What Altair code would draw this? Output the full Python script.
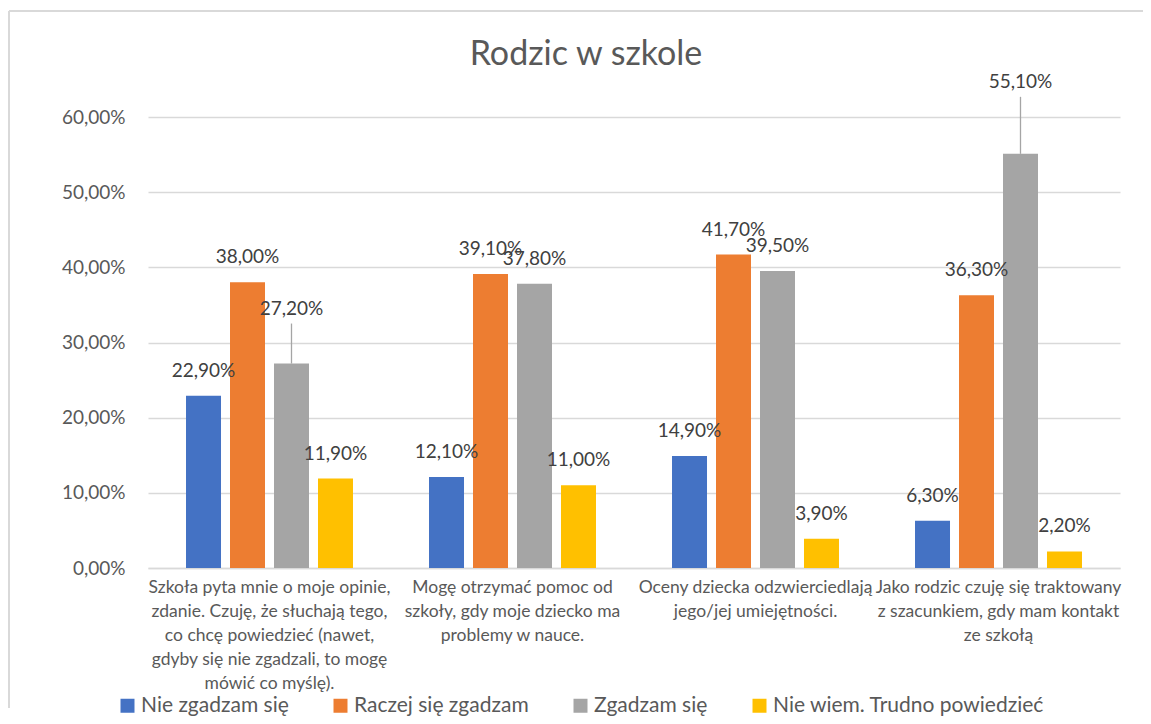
import altair as alt
import pandas as pd

categories = [
    "Szkoła pyta mnie o moje opinie,|zdanie. Czuję, że słuchają tego,|co chcę powiedzieć (nawet,|gdyby się nie zgadzali, to mogę|mówić co myślę).",
    "Mogę otrzymać pomoc od|szkoły, gdy moje dziecko ma|problemy w nauce.",
    "Oceny dziecka odzwierciedlają|jego/jej umiejętności.",
    "Jako rodzic czuję się traktowany|z szacunkiem, gdy mam kontakt|ze szkołą",
]
series = ["Nie zgadzam się", "Raczej się zgadzam", "Zgadzam się", "Nie wiem. Trudno powiedzieć"]
colors = ["#4472C4", "#ED7D31", "#A5A5A5", "#FFC000"]

nie_zgadzam = [22.9, 12.1, 14.9, 6.3]
raczej_zgadzam = [38.0, 39.1, 41.7, 36.3]
zgadzam = [27.2, 37.8, 39.5, 55.1]
nie_wiem = [11.9, 11.0, 3.9, 2.2]
y_ticks = [0, 10, 20, 30, 40, 50, 60]
title_text = ["Rodzic w szkole"]

values_by_series = [nie_zgadzam, raczej_zgadzam, zgadzam, nie_wiem]
rows = []
for si, s in enumerate(series):
    for ci, c in enumerate(categories):
        rows.append({"cat": c, "series": s, "value": values_by_series[si][ci], "key": f"{ci}-{si}"})
df = pd.DataFrame(rows)

FONT = "Lato"
AXIS_COL = "#595959"
LABEL_COL = "#404040"

# labels moved up with a leader line: key -> (label lift px, line top px)
leaders = {"0-2": (55, 40), "3-2": (72, 57)}

x_enc = alt.X("cat:N", sort=categories, scale=alt.Scale(paddingInner=0, paddingOuter=0),
              axis=alt.Axis(title=None, labelExpr="split(datum.label, '|')", labelAngle=0,
                            labelFontSize=17.5, labelColor=AXIS_COL, labelFont=FONT,
                            labelLineHeight=24, labelPadding=10, labelBaseline="top",
                            ticks=False, domainColor="#D9D9D9", domainWidth=1.3,
                            labelLimit=0, grid=False))
xo_enc = alt.XOffset("series:N", sort=series, scale=alt.Scale(paddingInner=0.2045, paddingOuter=0.864))
y_scale = alt.Scale(domain=[0, 60], nice=False)

base = alt.Chart(df).transform_calculate(
    label="replace(format(datum.value, '.2f'), '.', ',') + '%'"
)

bars = base.mark_bar().encode(
    x=x_enc,
    xOffset=xo_enc,
    y=alt.Y("value:Q", scale=y_scale,
            axis=alt.Axis(title=None, values=y_ticks,
                          labelExpr="replace(format(datum.value, '.2f'), '.', ',') + '%'",
                          labelFontSize=19, labelColor=AXIS_COL, labelFont=FONT, labelPadding=23,
                          ticks=False, domain=False, gridColor="#D9D9D9", gridWidth=1.3)),
    color=alt.Color("series:N", sort=series, scale=alt.Scale(domain=series, range=colors),
                    legend=alt.Legend(title=None, orient="none", direction="horizontal",
                                      legendX=-31, legendY=578, symbolType="square",
                                      symbolSize=196, symbolStrokeWidth=0, labelFontSize=21,
                                      labelColor=AXIS_COL, labelFont=FONT, columnPadding=41,
                                      labelOffset=3, labelLimit=0)),
)

normal_labels = base.transform_filter(
    ~alt.FieldOneOfPredicate(field="key", oneOf=list(leaders.keys()))
).mark_text(dy=-25, baseline="middle", fontSize=19, font=FONT, color=LABEL_COL).encode(
    x=alt.X("cat:N", sort=categories), xOffset=alt.XOffset("series:N", sort=series),
    y=alt.Y("value:Q", scale=y_scale), text="label:N")

layers = [bars, normal_labels]
for k, (lift, line_top) in leaders.items():
    layers.append(base.transform_filter(alt.datum.key == k).mark_rule(
        color="#A5A5A5", strokeWidth=1.3, y2Offset=-line_top).encode(
        x=alt.X("cat:N", sort=categories), xOffset=alt.XOffset("series:N", sort=series),
        y=alt.Y("value:Q", scale=y_scale), y2="value:Q"))
    layers.append(base.transform_filter(alt.datum.key == k).mark_text(
        dy=-lift, baseline="middle", fontSize=19, font=FONT, color=LABEL_COL).encode(
        x=alt.X("cat:N", sort=categories), xOffset=alt.XOffset("series:N", sort=series),
        y=alt.Y("value:Q", scale=y_scale), text="label:N"))

# chart title
title = alt.Chart(pd.DataFrame({"t": title_text})).mark_text(
    fontSize=34, font=FONT, color=AXIS_COL, align="center", baseline="alphabetic").encode(
    x=alt.value(438), y=alt.value(-52), text="t:N")

# chart frame (top and left edges)
frame_top = alt.Chart(df).mark_rule(color="#D9D9D9", strokeWidth=1.3).encode(
    x=alt.value(-139), x2=alt.value(1003), y=alt.value(-106))
frame_left = alt.Chart(df).mark_rule(color="#D9D9D9", strokeWidth=1.3).encode(
    x=alt.value(-139), y=alt.value(-106), y2=alt.value(591))
layers += [title, frame_top, frame_left]

chart = alt.layer(*layers).properties(
    width=972, height=451,
    padding={"left": 140, "top": 109, "right": 23, "bottom": 148},
    autosize=alt.AutoSizeParams(type="none"),
).configure_view(stroke=None)

chart.save("out.html", embed_options={"renderer": "svg", "actions": False})
